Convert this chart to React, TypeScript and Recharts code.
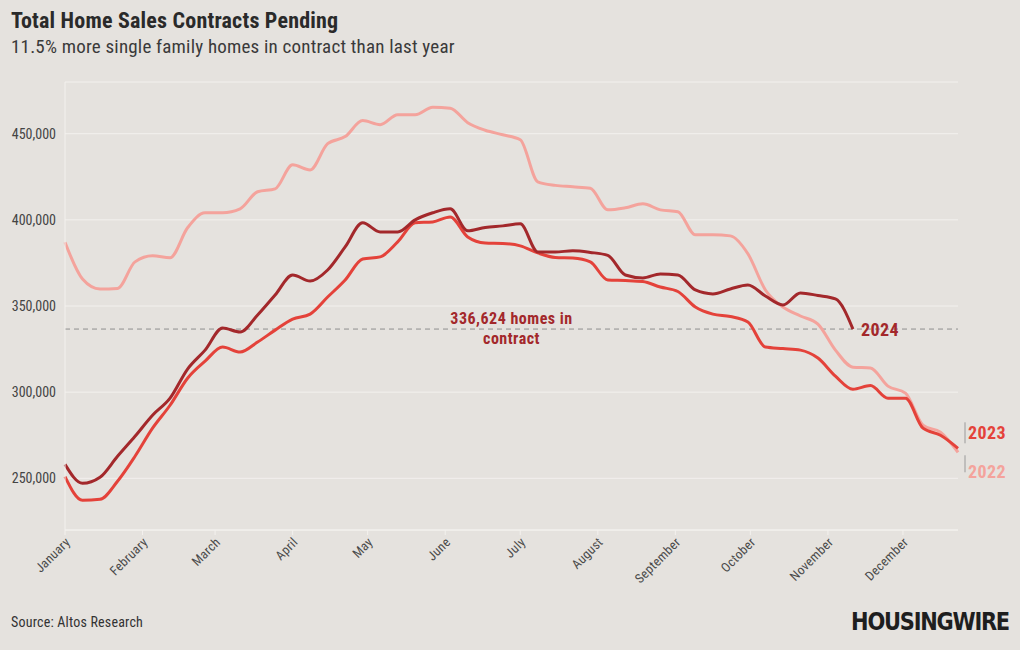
import React from "react"
import { LineChart, Line, XAxis, YAxis, CartesianGrid, ReferenceLine } from "recharts"

// day of year (weekly points)
const days = [
  0, 7, 14, 21, 28, 35, 42, 49, 56, 63, 70, 77, 84, 91, 98, 105, 112, 119, 126, 133, 140, 147, 154, 161, 168, 175,
  182, 189, 196, 203, 210, 217, 224, 231, 238, 245, 252, 259, 266, 273, 280, 287, 294, 301, 308, 315, 322, 329, 336,
  343, 350, 357,
]

const sales2022 = [
  387000, 365700, 359900, 360200, 375600, 379100, 378000, 395400, 404100, 404100, 406400, 416300, 418000, 432000,
  429000, 444200, 448300, 457600, 455200, 461000, 461000, 465400, 464800, 456400, 452000, 449400, 446500, 422100,
  420000, 419200, 418300, 405800, 407000, 409300, 405800, 404700, 391300, 391300, 390700, 380300, 359300, 349400,
  344200, 339500, 324400, 314500, 314000, 303500, 299400, 280800, 276700, 265100,
]

const sales2023 = [
  251000, 237200, 237800, 248300, 262800, 279100, 292400, 308100, 318000, 326200, 323300, 329100, 336000, 342400,
  345300, 355200, 365100, 377300, 378500, 387200, 398300, 398800, 401700, 390100, 386600, 386300, 384900, 380800,
  378200, 377900, 375600, 365100, 364800, 364200, 361000, 358400, 349400, 345300, 343900, 340700, 326200, 325300,
  324400, 319800, 309300, 301700, 303800, 296500, 296500, 279100, 275000, 267400,
]

const sales2024 = [
  258100, 247100, 250600, 262800, 274400, 286600, 296500, 313400, 324400, 337200, 334900, 344800, 356400, 368000,
  364500, 370900, 384300, 398300, 393000, 393000, 400000, 404100, 406400, 393600, 395600, 396500, 397700, 381400,
  381400, 382000, 381100, 379400, 368000, 366300, 368600, 368000, 359300, 357000, 359900, 362200, 355800, 350600,
  357600, 356100, 354100, 336624,
]

const monthDays = [0, 31, 60, 91, 121, 152, 182, 213, 244, 274, 305, 335]
const monthNames = [
  "January", "February", "March", "April", "May", "June",
  "July", "August", "September", "October", "November", "December",
]
const yTicks = [250000, 300000, 350000, 400000, 450000]
const pendingNow = 336624

const data = days.map((d, i) => ({
  day: d,
  y2022: sales2022[i],
  y2023: sales2023[i],
  y2024: i < sales2024.length ? sales2024[i] : null,
}))

const FONT = "'Roboto Condensed', 'Liberation Sans Narrow', 'Roboto', sans-serif"
const BG = "#e5e2de"
const GRID = "#f3f1ee"
const C2022 = "#f4a39c"
const C2023 = "#e4423a"
const C2024 = "#a3282b"

const MonthTick = ({ x, y, payload }: any) => {
  const idx = monthDays.indexOf(payload.value)
  return (
    <text
      transform={`translate(${x + 6},${y + 6}) rotate(-45)`}
      textAnchor="end"
      fontSize={13}
      letterSpacing={0.3}
      fill="#4a4a4a"
      fontFamily={FONT}
    >
      {monthNames[idx]}
    </text>
  )
}

const endLabel = (series: string, len: number) => (props: any) => {
  const { x, y, index } = props
  if (index !== len - 1) return null
  if (series === "2024") {
    return (
      <text x={x + 8} y={y + 7} fill={C2024} fontSize={18} fontWeight={700} letterSpacing={0.4} fontFamily={FONT}>
        2024
      </text>
    )
  }
  if (series === "2023") {
    return (
      <g>
        <line x1={x + 7} x2={x + 7} y1={y - 26} y2={y - 5} stroke="#9a9a9a" strokeWidth={1} />
        <text x={x + 10} y={y - 9} fill={C2023} fontSize={18} fontWeight={700} letterSpacing={0.4} fontFamily={FONT}>
          2023
        </text>
      </g>
    )
  }
  return (
    <g>
      <line x1={x + 7} x2={x + 7} y1={y + 3} y2={y + 20} stroke="#9a9a9a" strokeWidth={1} />
      <text x={x + 10} y={y + 26} fill={C2022} fontSize={18} fontWeight={700} letterSpacing={0.4} fontFamily={FONT}>
        2022
      </text>
    </g>
  )
}

const RefLabel = ({ viewBox }: any) => {
  const cx = viewBox.x + viewBox.width * 0.5
  return (
    <g fontFamily={FONT} fontSize={16} fontWeight={700} fill={C2024} textAnchor="middle" letterSpacing={0.5}>
      <text x={cx} y={viewBox.y - 5}>
        {pendingNow.toLocaleString("en-US")} homes in
      </text>
      <text x={cx} y={viewBox.y + 15}>
        contract
      </text>
    </g>
  )
}

export default function App() {
  return (
    <div
      style={{
        position: "absolute",
        left: 0,
        top: 0,
        width: 1020,
        height: 650,
        background: BG,
        fontFamily: FONT,
        overflow: "hidden",
      }}
    >
      <div
        style={{
          position: "absolute",
          left: 11,
          top: 8,
          fontSize: 22,
          fontWeight: 700,
          letterSpacing: 0.2,
          color: "#2a2a2a",
        }}
      >
        Total Home Sales Contracts Pending
      </div>
      <div style={{ position: "absolute", left: 11, top: 35, fontSize: 19, letterSpacing: 0.2, color: "#3a3a3a" }}>
        11.5% more single family homes in contract than last year
      </div>
      <LineChart
        width={1020}
        height={650}
        data={data}
        margin={{ top: 82, right: 62, bottom: 60, left: 8 }}
      >
        <CartesianGrid vertical={false} stroke={GRID} strokeWidth={1} />
        <XAxis
          dataKey="day"
          type="number"
          domain={[0, 357]}
          ticks={monthDays}
          interval={0}
          height={60}
          tick={<MonthTick />}
          tickSize={5}
          tickLine={{ stroke: GRID }}
          axisLine={{ stroke: GRID }}
        />
        <YAxis
          domain={[220000, 480000]}
          ticks={yTicks}
          width={57}
          tickSize={0}
          tickMargin={9}
          tickFormatter={(v) => v.toLocaleString("en-US")}
          tick={{ fontSize: 14, fill: "#444", fontFamily: FONT }}
          axisLine={{ stroke: GRID }}
          tickLine={false}
        />
        <ReferenceLine y={pendingNow} stroke="#8f8f8f" strokeDasharray="5 4" strokeWidth={1} label={<RefLabel />} />
        <Line
          dataKey="y2022"
          type="monotone"
          stroke={C2022}
          strokeWidth={3}
          dot={false}
          isAnimationActive={false}
          label={endLabel("2022", sales2022.length)}
        />
        <Line
          dataKey="y2023"
          type="monotone"
          stroke={C2023}
          strokeWidth={3}
          dot={false}
          isAnimationActive={false}
          label={endLabel("2023", sales2023.length)}
        />
        <Line
          dataKey="y2024"
          type="monotone"
          stroke={C2024}
          strokeWidth={3}
          dot={false}
          connectNulls={false}
          isAnimationActive={false}
          label={endLabel("2024", sales2024.length)}
        />
      </LineChart>
      <div style={{ position: "absolute", left: 11, top: 614, fontSize: 14, letterSpacing: 0.2, color: "#333" }}>
        Source: Altos Research
      </div>
      <div
        style={{
          position: "absolute",
          right: 11,
          top: 607,
          fontSize: 25,
          fontWeight: 900,
          color: "#1e1e1e",
          fontFamily: "'DejaVu Sans', sans-serif",
          letterSpacing: -1.5,
          transform: "scaleX(0.84)",
          transformOrigin: "right",
        }}
      >
        HOUSINGWIRE
      </div>
    </div>
  )
}
